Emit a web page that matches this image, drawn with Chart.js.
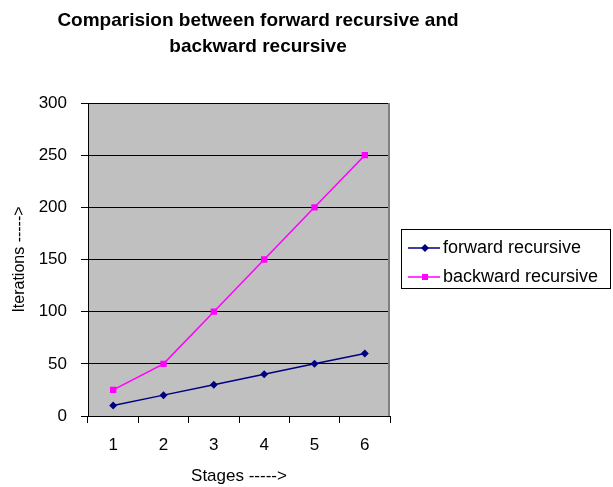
<!DOCTYPE html>
<html>
<head>
<meta charset="utf-8">
<script src="https://cdn.jsdelivr.net/npm/chart.js@4/dist/chart.umd.min.js"></script>
<style>
  body { margin: 0; background: #fff; }
  canvas { display: block; }
</style>
</head>
<body>
<canvas id="recursionChart" width="613" height="487"></canvas>
<script>
const stages = ['1', '2', '3', '4', '5', '6'];
const forwardIterations = [10, 20, 30, 40, 50, 60];
const backwardIterations = [25, 50, 100, 150, 200, 250];
const yTicks = [0, 50, 100, 150, 200, 250, 300];
const titleLines = ['Comparision between forward recursive and', 'backward recursive'];

const FONT = '"Liberation Sans", Arial, sans-serif';

// Chart.js caps a right-hand legend at a quarter of the width, so the
// framed Excel-style legend is drawn here next to the plot instead
function drawLegend(chart) {
    const ctx = chart.ctx;
    const a = chart.chartArea;
    const boxLeft = a.right + 11;
    const boxTop = 229;
    const boxRight = 610;
    const rowH = 29;
    ctx.save();
    ctx.strokeStyle = '#000';
    ctx.lineWidth = 1;
    ctx.strokeRect(boxLeft + 0.5, boxTop + 0.5, boxRight - boxLeft, 59);
    ctx.font = '18px ' + FONT;
    ctx.textBaseline = 'middle';
    ctx.textAlign = 'left';
    chart.data.datasets.forEach((ds, i) => {
        const y = boxTop + 19 + i * rowH;
        const x0 = boxLeft + 7;
        ctx.strokeStyle = ds.borderColor;
        ctx.fillStyle = ds.borderColor;
        ctx.lineWidth = 1.5;
        ctx.beginPath();
        ctx.moveTo(x0, y);
        ctx.lineTo(x0 + 32, y);
        ctx.stroke();
        const mx = x0 + 17;
        ctx.beginPath();
        if (ds.pointStyle === 'rectRot') {
            ctx.moveTo(mx, y - 4); ctx.lineTo(mx + 4, y); ctx.lineTo(mx, y + 4); ctx.lineTo(mx - 4, y);
            ctx.closePath();
            ctx.fill();
        } else {
            ctx.fillRect(mx - 3, y - 3, 6, 6);
        }
        ctx.fillStyle = '#000';
        ctx.fillText(ds.label, x0 + 35, y);
    });
    ctx.restore();
}

const plotFrame = {
    id: 'plotFrame',
    beforeDraw(chart) {
        const {ctx, chartArea: a} = chart;
        ctx.save();
        ctx.fillStyle = '#c0c0c0';
        ctx.fillRect(a.left, a.top, a.right - a.left, a.bottom - a.top);
        ctx.restore();
    },
    beforeDatasetsDraw(chart) {
        const {ctx, chartArea: a} = chart;
        ctx.save();
        ctx.strokeStyle = '#808080';
        ctx.lineWidth = 2;
        ctx.beginPath();
        ctx.moveTo(a.right - 1, a.top);
        ctx.lineTo(a.right - 1, a.bottom);
        ctx.stroke();
        ctx.restore();
    },
    afterDraw(chart) {
        const ctx = chart.ctx;
        ctx.save();
        ctx.fillStyle = '#000';
        ctx.font = 'bold 19px ' + FONT;
        ctx.textAlign = 'center';
        ctx.textBaseline = 'middle';
        ctx.fillText(titleLines[0], 258, 21);
        ctx.fillText(titleLines[1], 258, 47);
        ctx.restore();
        drawLegend(chart);
    }
};

const tickFont = {family: FONT, size: 17};

const chart = new Chart(document.getElementById('recursionChart').getContext('2d'), {
    type: 'line',
    data: {
        labels: stages,
        datasets: [
            {
                label: 'forward recursive',
                data: forwardIterations,
                borderColor: '#000080',
                backgroundColor: '#000080',
                borderWidth: 1.5,
                pointStyle: 'rectRot',
                pointRadius: 4,
                pointBorderWidth: 0,
                tension: 0,
                fill: false
            },
            {
                label: 'backward recursive',
                data: backwardIterations,
                borderColor: '#ff00ff',
                backgroundColor: '#ff00ff',
                borderWidth: 1.5,
                pointStyle: 'rect',
                pointRadius: 4.5,
                pointBorderWidth: 0,
                tension: 0,
                fill: false
            }
        ]
    },
    options: {
        responsive: false,
        animation: false,
        events: [],
        layout: {
            padding: {top: 103, right: 223, bottom: 0, left: 0}
        },
        plugins: {
            title: {display: false},
            tooltip: {enabled: false},
            legend: {display: false}
        },
        scales: {
            x: {
                type: 'category',
                offset: true,
                grid: {
                    offset: true,
                    drawOnChartArea: false,
                    tickLength: 7,
                    color: '#000'
                },
                border: {color: '#000'},
                ticks: {color: '#000', font: tickFont, padding: 12},
                title: {
                    display: true,
                    text: 'Stages ----->',
                    color: '#000',
                    font: tickFont,
                    padding: 0
                },
                afterFit(s) { s.height = 71; }
            },
            y: {
                min: yTicks[0],
                max: yTicks[yTicks.length - 1],
                afterBuildTicks(s) { s.ticks = yTicks.map(v => ({value: v})); },
                grid: {color: '#000', tickLength: 7},
                border: {color: '#000'},
                ticks: {color: '#000', font: tickFont, padding: 14},
                title: {
                    display: true,
                    text: 'Iterations ----->',
                    color: '#000',
                    font: {family: FONT, size: 16},
                    padding: {top: 10, bottom: 0}
                },
                afterFit(s) { s.width = 88; }
            }
        }
    },
    plugins: [plotFrame]
});
</script>
</body>
</html>
